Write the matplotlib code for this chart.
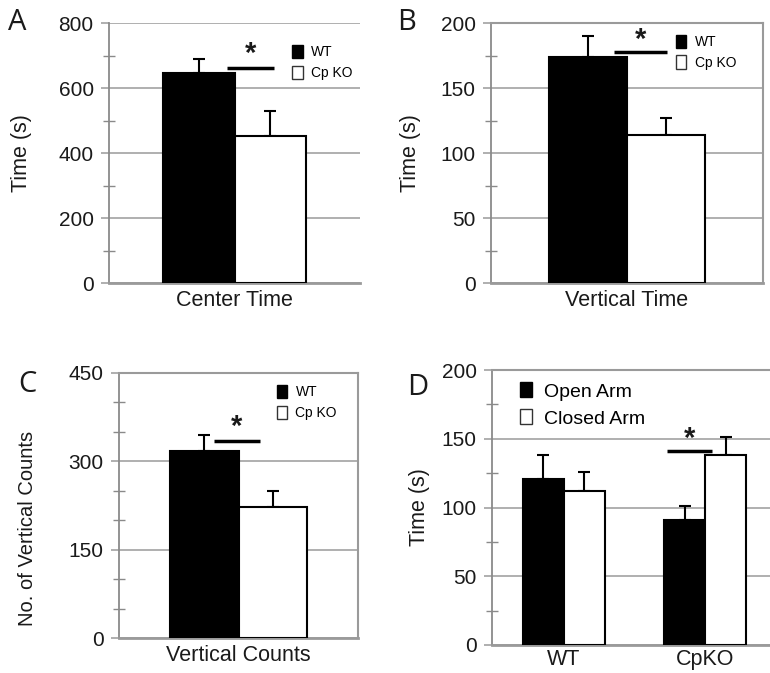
import matplotlib
matplotlib.use("Agg")
import matplotlib.pyplot as plt
from matplotlib.patches import Patch
from matplotlib.ticker import MultipleLocator

plt.rcParams['font.family'] = ['Liberation Sans', 'DejaVu Sans']

# ---------------- data ----------------
groups_ab = ["WT", "Cp KO"]
center_time = [645, 452]
center_time_err = [44, 78]
vertical_time = [174, 114]
vertical_time_err = [16, 13]
vertical_counts = [318, 223]
vertical_counts_err = [27, 27]

d_categories = ["WT", "CpKO"]
d_series = ["Open Arm", "Closed Arm"]
open_arm = [121, 91]
open_arm_err = [17, 10]
closed_arm = [112, 138]
closed_arm_err = [14, 13]

W, H = 770, 673
fig = plt.figure(figsize=(W / 100, H / 100), dpi=100)

GRID = '#9a9a9a'
SPINE = '#8a8a8a'
TXT = '#1a1a1a'
TICKFS = 15
LABFS = 15.5


def frac(x0, y0, x1, y1):
    return [x0 / W, 1 - y1 / H, (x1 - x0) / W, (y1 - y0) / H]


def style_axis(ax, ymax, major, minor, right=False, top_box=False):
    ax.set_ylim(0, ymax)
    ax.yaxis.set_major_locator(MultipleLocator(major))
    ax.yaxis.set_minor_locator(MultipleLocator(minor))
    ax.yaxis.grid(True, which='major', color=GRID, linewidth=1.1, zorder=0)
    ax.set_axisbelow(True)
    ax.tick_params(axis='y', which='major', length=6, width=1.1, color=GRID,
                   labelsize=TICKFS, labelcolor=TXT, pad=5)
    ax.tick_params(axis='y', which='minor', direction='inout', length=9,
                   width=1, color=SPINE)
    ax.tick_params(axis='x', length=0, labelsize=LABFS, labelcolor=TXT)
    ax.spines['left'].set_color(SPINE)
    ax.spines['left'].set_linewidth(1.3)
    ax.spines['bottom'].set_color(GRID)
    ax.spines['bottom'].set_linewidth(2)
    ax.spines['top'].set_visible(top_box)
    ax.spines['top'].set_color(GRID)
    ax.spines['top'].set_linewidth(1.5)
    ax.spines['right'].set_visible(right)
    ax.spines['right'].set_color(GRID)
    ax.spines['right'].set_linewidth(1.5)


def two_bar(ax, vals, errs):
    xs = [-0.5, 0.5]
    colors = ['black', 'white']
    for x, v, e, c in zip(xs, vals, errs, colors):
        ax.bar(x, v, width=1.0, color=c, edgecolor='black', linewidth=1.5, zorder=3)
        ax.errorbar(x, v, yerr=[[0], [e]], fmt='none', ecolor='black',
                    elinewidth=1.5, capsize=4, capthick=1.5, zorder=2)
    ax.set_xlim(-1.75, 1.75)
    ax.set_xticks([])


def legend(ax, labels, anchor, fs, hl=0.75, hh=1.1):
    handles = [Patch(facecolor='black', edgecolor='black'),
               Patch(facecolor='white', edgecolor='#333333', linewidth=1)]
    ax.legend(handles, labels, loc='upper left', bbox_to_anchor=anchor,
              frameon=False, fontsize=fs, handlelength=hl, handleheight=hh,
              handletextpad=0.6, labelspacing=0.45, borderaxespad=0, borderpad=0)


def sig(ax, x0, x1, y, ys):
    ax.plot([x0, x1], [y, y], color='black', linewidth=2.5, zorder=4,
            solid_capstyle='butt')
    ax.text((x0 + x1) / 2, ys, '*', ha='center', va='center', fontsize=21,
            fontweight='bold', color=TXT)


# ---------- Panel A ----------
axA = fig.add_axes(frac(109, 23, 360, 283))
two_bar(axA, center_time, center_time_err)
style_axis(axA, 800, 200, 100)
axA.set_ylabel('Time (s)', fontsize=LABFS, color=TXT, labelpad=19)
axA.set_xlabel('Center Time', fontsize=LABFS, color=TXT, labelpad=5)
sig(axA, -0.1, 0.55, 661, 705)
legend(axA, groups_ab, (0.73, 0.915), 10)
fig.text(8 / W, 1 - 22 / H, 'A', fontsize=21, family='Open Sans', va='center', color=TXT)

# ---------- Panel B ----------
axB = fig.add_axes(frac(491, 23, 763, 283))
two_bar(axB, vertical_time, vertical_time_err)
style_axis(axB, 200, 50, 25, right=True, top_box=True)
axB.set_ylabel('Time (s)', fontsize=LABFS, color=TXT, labelpad=14)
axB.set_xlabel('Vertical Time', fontsize=LABFS, color=TXT, labelpad=5)
sig(axB, -0.17, 0.51, 177.5, 187)
legend(axB, groups_ab, (0.68, 0.955), 10)
fig.text(397 / W, 1 - 22 / H, 'B', fontsize=21, family='Open Sans', va='center', color=TXT)

# ---------- Panel C ----------
axC = fig.add_axes(frac(119, 373, 358, 638))
two_bar(axC, vertical_counts, vertical_counts_err)
style_axis(axC, 450, 150, 50, right=True, top_box=True)
axC.set_ylabel('No. of Vertical Counts', fontsize=14.5, color=TXT)
axC.yaxis.set_label_coords(-0.343, 0.413)
axC.set_xlabel('Vertical Counts', fontsize=LABFS, color=TXT, labelpad=5)
sig(axC, -0.36, 0.31, 334.5, 358)
legend(axC, groups_ab, (0.66, 0.955), 10)
fig.text(18 / W, 1 - 385 / H, 'C', fontsize=21, family='Open Sans', va='center', color=TXT)

# ---------- Panel D ----------
axD = fig.add_axes(frac(492, 370, 790, 645))
bw = 0.29
xs = [0, 1]
for i, x in enumerate(xs):
    axD.bar(x - bw / 2, open_arm[i], width=bw, color='black', edgecolor='black',
            linewidth=1.5, zorder=3)
    axD.errorbar(x - bw / 2, open_arm[i], yerr=[[0], [open_arm_err[i]]], fmt='none',
                 ecolor='black', elinewidth=1.5, capsize=4, capthick=1.5, zorder=2)
    axD.bar(x + bw / 2, closed_arm[i], width=bw, color='white', edgecolor='black',
            linewidth=1.5, zorder=3)
    axD.errorbar(x + bw / 2, closed_arm[i], yerr=[[0], [closed_arm_err[i]]], fmt='none',
                 ecolor='black', elinewidth=1.5, capsize=4, capthick=1.5, zorder=2)
style_axis(axD, 200, 50, 25, right=False, top_box=True)
axD.set_xlim(-0.507, 1.6)
axD.set_xticks(xs)
axD.set_xticklabels(d_categories)
axD.tick_params(axis='x', pad=3)
axD.set_ylabel('Time (s)', fontsize=LABFS, color=TXT, labelpad=8)
sig(axD, 0.732, 1.049, 141.3, 150)
legend(axD, d_series, (0.095, 0.955), 14, hl=0.6, hh=0.8)
fig.text(407 / W, 1 - 388 / H, 'D', fontsize=21, family='Open Sans', va='center', color=TXT)

fig.savefig('out.png', dpi=100)
